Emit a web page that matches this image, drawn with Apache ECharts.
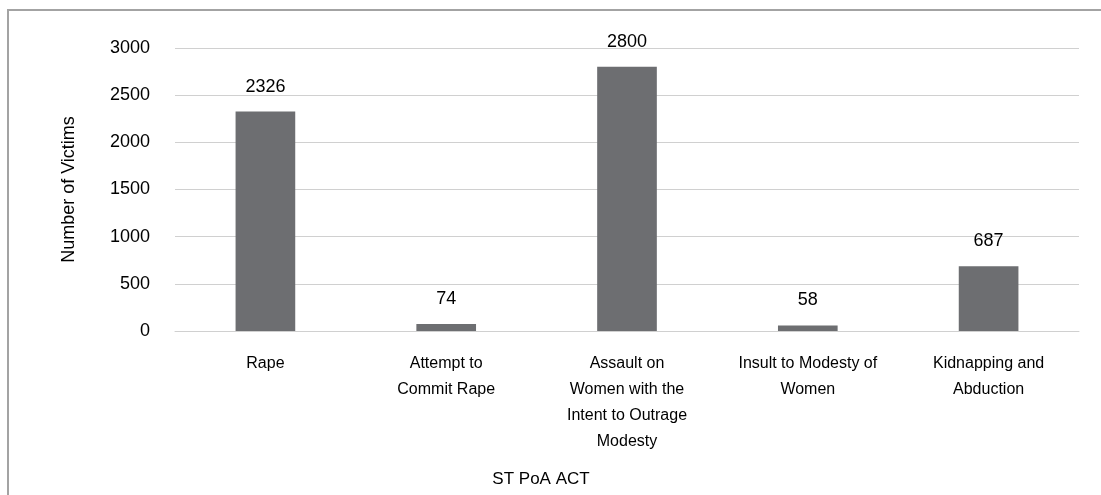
<!DOCTYPE html>
<html>
<head>
<meta charset="utf-8">
<script src="https://cdn.jsdelivr.net/npm/echarts@6/dist/echarts.min.js"></script>
<style>
  html, body { margin: 0; padding: 0; background: #fff; }
  #chart { width: 1101px; height: 495px; }
</style>
</head>
<body>
<div id="chart"></div>
<script>
// data
const categories = [
  "Rape",
  "Attempt to\nCommit Rape",
  "Assault on\nWomen with the\nIntent to Outrage\nModesty",
  "Insult to Modesty of\nWomen",
  "Kidnapping and\nAbduction"
];
const victims = [2326, 74, 2800, 58, 687];
const yTicks = [0, 500, 1000, 1500, 2000, 2500, 3000];

const font = "'Liberation Sans', Arial, sans-serif";

let myChart = echarts.init(document.getElementById("chart"));
myChart.setOption({
  animation: false,
  title: {
    text: "ST PoA ACT",
    left: 536,
    top: 466,
    textAlign: "center",
    textStyle: { fontFamily: font, fontSize: 17, fontWeight: "normal", color: "#000" }
  },
  graphic: [
    {
      type: "rect",
      shape: { x: 8, y: 10, width: 1110, height: 500 },
      style: { fill: "none", stroke: "#a3a3a3", lineWidth: 2 },
      silent: true
    }
  ],
  grid: { left: 175, right: 22, top: 48, bottom: 164 },
  xAxis: {
    type: "category",
    data: categories,
    axisTick: { show: false },
    axisLine: { lineStyle: { color: "#d0d0d0", width: 1 } },
    axisLabel: {
      interval: 0,
      margin: 20,
      lineHeight: 26,
      fontFamily: font,
      fontSize: 16,
      color: "#000"
    }
  },
  yAxis: {
    type: "value",
    min: yTicks[0],
    max: yTicks[yTicks.length - 1],
    interval: 500,
    name: "Number of Victims",
    nameLocation: "middle",
    nameGap: 97,
    nameTextStyle: { fontFamily: font, fontSize: 18, color: "#000" },
    axisLine: { show: false },
    axisTick: { show: false },
    splitLine: { lineStyle: { color: "#d0d0d0", width: 1 } },
    axisLabel: {
      margin: 25,
      fontFamily: font,
      fontSize: 18,
      color: "#000",
      formatter: function (v) { return String(v); }
    }
  },
  series: [
    {
      type: "bar",
      data: victims,
      barWidth: "33%",
      itemStyle: { color: "#6d6e71" },
      label: {
        show: true,
        position: "top",
        distance: 16,
        fontFamily: font,
        fontSize: 18,
        color: "#000"
      }
    }
  ]
});
</script>
</body>
</html>
